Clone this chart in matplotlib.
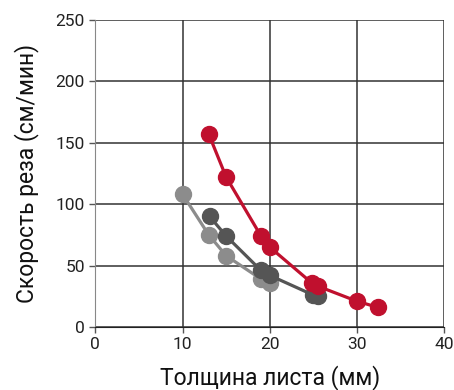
import matplotlib
matplotlib.use("Agg")
import matplotlib.pyplot as plt

# sheet thickness (mm) vs cutting speed (cm/min)
red_x = [13, 15, 19, 20, 24.8, 25.6, 30, 32.4]
red_y = [157, 122, 74, 65, 36, 33, 21, 16]

dark_x = [13.1, 15, 19, 20, 25, 25.5]
dark_y = [90, 74, 46, 42, 26, 25]

light_x = [10, 13, 15, 19, 20]
light_y = [108, 75, 58, 39, 36]

x_ticks = [0, 10, 20, 30, 40]
y_ticks = [0, 50, 100, 150, 200, 250]

plt.rcParams['font.family'] = ['Roboto', 'DejaVu Sans']

fig = plt.figure(figsize=(4.54, 3.9), dpi=100)
ax = fig.add_axes([0.21, 0.1615, 0.768, 0.7885])

for xs, ys, col in [(light_x, light_y, '#8c8c8c'),
                    (dark_x, dark_y, '#555555'),
                    (red_x, red_y, '#c0102e')]:
    ax.plot(xs, ys, color=col, lw=2.3, marker='o', ms=11.5, zorder=3)

ax.set_xlim(0, 40)
ax.set_ylim(0, 250)
ax.set_xticks(x_ticks)
ax.set_yticks(y_ticks)
ax.grid(True, color='#333333', lw=1.1)
ax.set_axisbelow(True)
for s in ['top', 'right']:
    ax.spines[s].set_visible(False)
ax.spines['left'].set_color('#888888')
ax.spines['bottom'].set_color('#222222')
ax.tick_params(length=4, width=1, color='#555555', labelsize=12.5, colors='#222222')

ax.set_xlabel('Толщина листа (мм)', fontsize=16.5, color='#111111', labelpad=9)
ax.set_ylabel('Скорость реза (см/мин)', fontsize=16.5, color='#111111', labelpad=12)

fig.savefig('out.png', dpi=100)
